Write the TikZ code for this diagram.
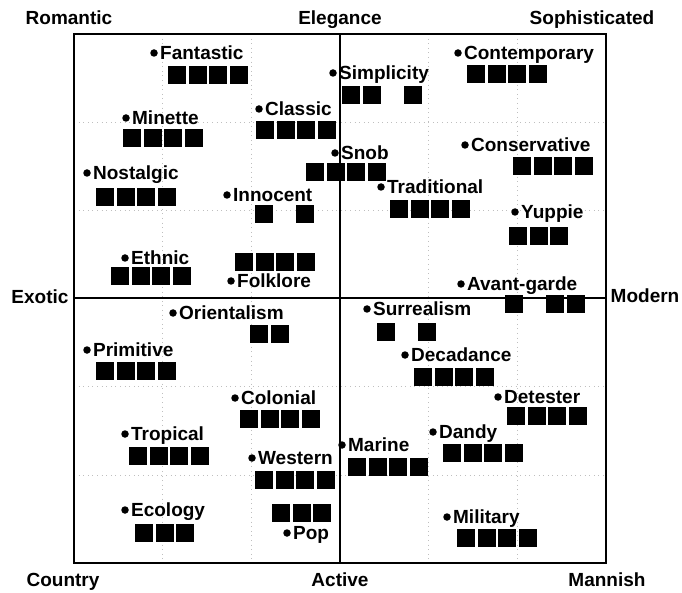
\documentclass[tikz,border=0pt]{standalone}
\usepackage{fontspec}
\setmainfont{Liberation Sans}
\newfontfamily\heavy{Liberation Sans Bold}
\usetikzlibrary{positioning}

\newcommand{\swatchrow}[3]{\foreach \k in {#3} \fill[swatch] (#1+20.5*\k,#2) rectangle ++(18,18);}

\tikzset{
 frame/.style={line width=2.8pt},
 gridline/.style={gray!50, dash pattern=on 0.6pt off 4pt, line width=0.6pt},
 pole/.style={font=\heavy\fontsize{19}{19}\selectfont, inner sep=0pt, text height=13.6pt, text depth=0pt},
 term/.style={pole},
 tick/.style={circle, fill=black, inner sep=0pt, minimum size=7.5pt},
 swatch/.style={fill=black}
}

\begin{document}
\begin{tikzpicture}[x=1pt, y=-1pt]
\useasboundingbox (0,0) rectangle (682,593);
\foreach \g in {1,2,4,5} {
 \draw[gridline] (74+88.67*\g,34) -- (74+88.67*\g,563);
 \draw[gridline] (74,34+88.17*\g) -- (606,34+88.17*\g);
}
\draw[frame] (74,34) rectangle (606,563);
\draw[frame] (340,34) -- (340,563);
\draw[frame] (74,298) -- (606,298);

\node[pole] (romantic) at (69,18) {Romantic};
\node[pole] (elegance) at (340,18) {Elegance};
\node[pole] (sophisticated) at (592,18) {Sophisticated};
\node[pole] (exotic) at (40,297) {Exotic};
\node[pole] (modern) at (645,296) {Modern};
\node[pole] (country) at (63,580) {Country};
\node[pole] (active) at (340,580) {Active};
\node[pole] (mannish) at (607,580) {Mannish};

\foreach \x/\y/\nm/\txt in {154/53/fantastic/Fantastic, 126/118/minette/Minette,
  259/109/classic/Classic, 87/173/nostalgic/Nostalgic, 227/195/innocent/Innocent,
  125/258/ethnic/Ethnic, 231/281/folklore/Folklore, 335/153/snob/Snob,
  333/73/simplicity/Simplicity, 458/53/contemporary/Contemporary,
  465/145/conservative/Conservative, 381/187/traditional/Traditional,
  515/212/yuppie/Yuppie, 461/284/avantgarde/Avant-garde,
  173/313/orientalism/Orientalism, 87/350/primitive/Primitive,
  235/398/colonial/Colonial, 125/434/tropical/Tropical, 252/458/western/Western,
  287/533/pop/Pop, 125/510/ecology/Ecology,
  367/309/surrealism/Surrealism, 405/355/decadance/Decadance,
  498/397/detester/Detester, 433/432/dandy/Dandy, 342/445/marine/Marine,
  447/517/military/Military} {
 \node[tick] (\nm) at (\x,\y) {};
 \node[term, right=2pt of \nm] (\nm-t) {\txt};
}

\swatchrow{168}{66}{0,1,2,3}
\swatchrow{123}{129}{0,1,2,3}
\swatchrow{256}{121}{0,1,2,3}
\swatchrow{96}{188}{0,1,2,3}
\swatchrow{255}{205}{0,2}
\swatchrow{111}{267}{0,1,2,3}
\swatchrow{235}{253}{0,1,2,3}
\swatchrow{306}{163}{0,1,2,3}
\swatchrow{342}{86}{0,1,3}
\swatchrow{467}{65}{0,1,2,3}
\swatchrow{513}{157}{0,1,2,3}
\swatchrow{390}{200}{0,1,2,3}
\swatchrow{509}{227}{0,1,2}
\swatchrow{505}{295}{0,2,3}
\swatchrow{250}{325}{0,1}
\swatchrow{96}{362}{0,1,2,3}
\swatchrow{240}{410}{0,1,2,3}
\swatchrow{129}{447}{0,1,2,3}
\swatchrow{255}{471}{0,1,2,3}
\swatchrow{272}{504}{0,1,2}
\swatchrow{135}{524}{0,1,2}
\swatchrow{377}{323}{0,2}
\swatchrow{414}{368}{0,1,2,3}
\swatchrow{507}{407}{0,1,2,3}
\swatchrow{443}{444}{0,1,2,3}
\swatchrow{348}{458}{0,1,2,3}
\swatchrow{457}{529}{0,1,2,3}
\end{tikzpicture}
\end{document}
